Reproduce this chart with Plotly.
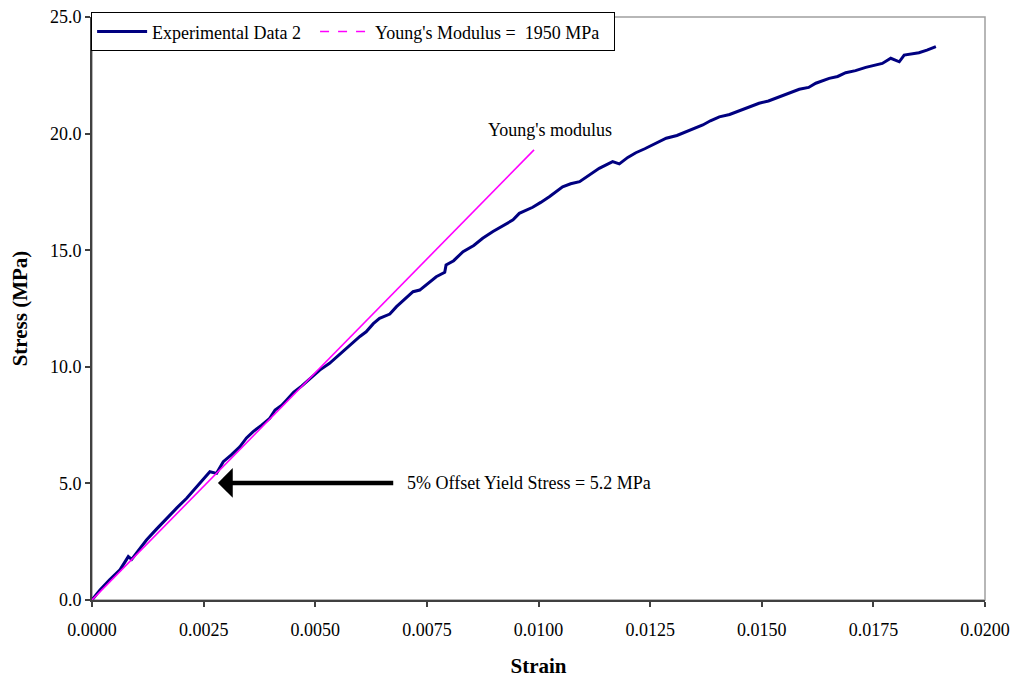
import plotly.graph_objects as go

strain = [0, 0.000179, 0.00040, 0.000626, 0.000813, 0.000888, 0.00105, 0.00122, 0.00145, 0.00167,
          0.00190, 0.00212, 0.00232, 0.00249, 0.00264, 0.00279, 0.00294, 0.00312, 0.00331, 0.00346,
          0.00361, 0.00380, 0.00398, 0.00410, 0.00425, 0.00436, 0.00452, 0.00470, 0.00490, 0.00510,
          0.00532, 0.00555, 0.00577, 0.00600, 0.00614, 0.00630, 0.00644, 0.00667, 0.00682, 0.00700,
          0.00719, 0.00734, 0.00750, 0.00771, 0.00790, 0.00793, 0.00810, 0.00831, 0.00855, 0.00875,
          0.00898, 0.00920, 0.00943, 0.00957, 0.00987, 0.01005, 0.01025, 0.01054, 0.01072, 0.01092,
          0.01115, 0.01136, 0.01166, 0.01181, 0.01200, 0.01218, 0.01238, 0.01256, 0.01286, 0.01310,
          0.01330, 0.01350, 0.01368, 0.01385, 0.01405, 0.01428, 0.01450, 0.01468, 0.01494, 0.01515,
          0.01539, 0.01560, 0.01584, 0.01605, 0.01621, 0.01651, 0.01670, 0.01688, 0.01710, 0.01733,
          0.01750, 0.01770, 0.01789, 0.01808, 0.01819, 0.01835, 0.01852, 0.01870, 0.01890]
stress = [0, 0.43, 0.88, 1.29, 1.86, 1.74, 2.15, 2.57, 3.05, 3.50,
          3.95, 4.36, 4.80, 5.15, 5.50, 5.43, 5.93, 6.22, 6.57, 6.95,
          7.22, 7.50, 7.79, 8.15, 8.35, 8.58, 8.92, 9.18, 9.50, 9.86,
          10.15, 10.55, 10.93, 11.30, 11.50, 11.85, 12.08, 12.26, 12.58, 12.90,
          13.22, 13.29, 13.52, 13.86, 14.05, 14.37, 14.55, 14.94, 15.20, 15.51,
          15.80, 16.05, 16.30, 16.58, 16.84, 17.05, 17.30, 17.72, 17.85, 17.94,
          18.25, 18.51, 18.80, 18.70, 18.98, 19.18, 19.35, 19.51, 19.80, 19.92,
          20.08, 20.25, 20.37, 20.55, 20.72, 20.82, 20.98, 21.08, 21.30, 21.40,
          21.58, 21.72, 21.90, 21.98, 22.16, 22.37, 22.45, 22.61, 22.70, 22.84,
          22.92, 23.01, 23.23, 23.08, 23.37, 23.42, 23.47, 23.58, 23.73]

# Young's modulus line (1950 MPa)
young_strain = [0.0, 0.0099]
young_stress = [0.0, 19.3]

# Annotations
yield_tip = (0.00282, 5.02)
yield_tail = (0.00678, 5.02)
yield_label = "5% Offset Yield Stress = 5.2 MPa"
young_label_pos = (0.01025, 20.15)

x_ticks = [0, 0.0025, 0.005, 0.0075, 0.01, 0.0125, 0.015, 0.0175, 0.02]
y_ticks = [0, 5, 10, 15, 20, 25]

FONT = "Liberation Serif"
NAVY = "#000080"
MAG = "#FF00FF"

fig = go.Figure()
fig.add_trace(go.Scatter(x=strain, y=stress, mode="lines",
                         name="Experimental Data 2\u00a0\u00a0",
                         line=dict(color=NAVY, width=3)))
fig.add_trace(go.Scatter(x=young_strain, y=young_stress, mode="lines",
                         showlegend=False, line=dict(color=MAG, width=1.6)))
fig.add_trace(go.Scatter(x=[None], y=[None], mode="lines",
                         name="Young's Modulus = \u00a01950 MPa\u00a0\u00a0",
                         line=dict(color=MAG, width=1.6, dash="dash")))

fig.add_shape(type="rect", xref="paper", yref="paper", x0=0, y0=0, x1=1, y1=1,
              line=dict(color="#A0A0A0", width=1.5), layer="below")

fig.add_annotation(x=yield_tip[0], y=yield_tip[1], ax=yield_tail[0], ay=yield_tail[1],
                   xref="x", yref="y", axref="x", ayref="y", text="",
                   showarrow=True, arrowhead=1, arrowsize=1.1, arrowwidth=4.5,
                   arrowcolor="black")
fig.add_annotation(x=0.00700, y=yield_tip[1], xref="x", yref="y", text=yield_label,
                   showarrow=False, xanchor="left", yanchor="middle",
                   font=dict(family=FONT, size=18, color="black"))
fig.add_annotation(x=young_label_pos[0], y=young_label_pos[1], xref="x", yref="y",
                   text="Young's modulus", showarrow=False, xanchor="center", yanchor="middle",
                   font=dict(family=FONT, size=18, color="black"))

fig.update_layout(
    width=1012, height=678,
    margin=dict(l=92, r=27, t=17, b=78, autoexpand=False),
    plot_bgcolor="white", paper_bgcolor="white",
    font=dict(family=FONT, size=18, color="black"),
    showlegend=True,
    legend=dict(orientation="h", x=-0.001, y=1.008, xanchor="left", yanchor="top",
                bgcolor="white", bordercolor="black", borderwidth=1,
                font=dict(family=FONT, size=18, color="black"),
                tracegroupgap=0, itemwidth=50),
    xaxis=dict(range=[0, 0.02], tickvals=x_ticks, tickformat=".4f", automargin=False,
               showgrid=False, zeroline=False, showline=True, linecolor="#404040", linewidth=2,
               ticks="outside", ticklen=5, tickwidth=1.5, tickcolor="#404040",
               ticklabelstandoff=7,
               title=dict(text="<b>Strain</b>", font=dict(family=FONT, size=21), standoff=30)),
    yaxis=dict(range=[0, 25], tickvals=y_ticks, tickformat=".1f", automargin=False,
               showgrid=False, zeroline=False, showline=True, linecolor="#404040", linewidth=2,
               ticks="outside", ticklen=5, tickwidth=1.5, tickcolor="#404040",
               ticklabelstandoff=0,
               title=dict(text="<b>Stress (MPa)</b>", font=dict(family=FONT, size=21), standoff=17)),
)

fig.write_html("out.html", config={"displayModeBar": False},
               post_script="document.body.style.margin='0';document.body.style.overflow='hidden';")
